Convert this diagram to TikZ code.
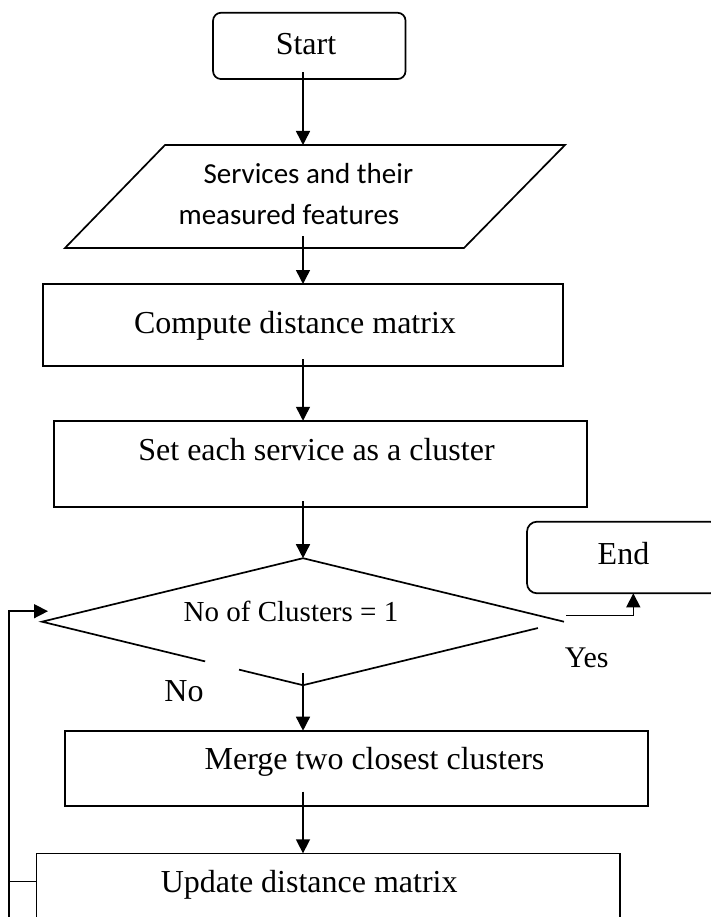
\documentclass[tikz,border=0pt]{standalone}
\usepackage{fontspec}
\setmainfont{Liberation Serif}
\newfontfamily\calib{Carlito}
\usetikzlibrary{arrows.meta,calc,shapes.geometric}
\begin{document}
\begin{tikzpicture}[x=1pt,y=-1pt,line width=1.7pt,
  box/.style={draw,rectangle,inner sep=0pt,outer sep=0pt,font=\fontsize{32}{38}\selectfont,text height=22pt},
  term/.style={box,rounded corners=8pt},
  arr/.style={-{Triangle[width=14pt,length=14pt]},line width=1.5pt},
  lbl/.style={inner sep=0pt,outer sep=0pt,font=\fontsize{32}{38}\selectfont,anchor=base}]
\path[use as bounding box] (0,0) rectangle (711,917);
\clip (0,0) rectangle (711,917);

% nodes
\node[term,minimum width=192.5pt,minimum height=66.3pt,text depth=3.8pt] (start) at (309.3,45.9) {Start\hspace*{6.6pt}};
\node[inner sep=0pt,outer sep=0pt,minimum width=500pt,minimum height=103pt] (par) at (315,196.5) {};
\draw ($(par.north west)+(100,0)$) -- (par.north east) -- ($(par.south east)+(-101,0)$) -- (par.south west) -- cycle;
\node[anchor=base west,inner sep=0pt,outer sep=0pt,font=\calib\fontsize{29}{41.7}\selectfont] (ptxt) at (178.6,183.3)
  {\begin{tabular}[t]{@{}l@{}}\hspace*{25pt}Services and their\\ measured features\end{tabular}};
\node[box,minimum width=520pt,minimum height=82pt,text depth=5.4pt] (cmp) at (303,325) {Compute distance matrix\hspace*{16pt}};
\node[box,minimum width=533pt,minimum height=86.3pt,text depth=28pt] (set) at (320.5,463.9) {Set each service as a cluster\hspace*{8pt}};
\node[shape=diamond,inner sep=0pt,outer sep=0pt,minimum width=522pt,minimum height=127pt] (dec) at (303,621.7) {};
\node[lbl,font=\fontsize{29}{35}\selectfont] (dtxt) at (291,621.7) {No of Clusters = 1};
\node[term,rounded corners=10pt,minimum width=193pt,minimum height=71.6pt,text depth=9pt] (endb) at (623.5,557.5) {End};
\node[box,minimum width=583pt,minimum height=75pt,text depth=18.8pt] (merge) at (356.5,768.2) {\hspace*{36pt}Merge two closest clusters};
\node[box,minimum width=583.7pt,minimum height=76.7pt,text depth=19.6pt] (upd) at (328.2,891.7) {Update distance matrix\hspace*{38pt}};
\node[lbl] (no) at (184,701.7) {No};
\node[lbl,font=\fontsize{30}{36}\selectfont] (yes) at (586.7,667.3) {Yes};

% decision outline (with the gaps of the original)
\draw ($(dec.south)!0.375!(dec.west)$) -- (dec.west) -- (dec.north) -- (dec.east);
\draw ($(dec.east)!0.1!(dec.south)$) -- (dec.south) -- ($(dec.south)!0.245!(dec.west)$);

% connectors
\draw[arr] ($(start.south -| cmp.north)+(0,-7)$) -- (par.north -| cmp.north);
\draw[arr] ($(par.south -| cmp.north)+(0,-12)$) -- (cmp.north);
\draw[arr] ($(cmp.south)+(0,-7)$) -- (set.north -| cmp.south);
\draw[arr] ($(set.south -| dec.north)+(0,-6)$) -- (dec.north);
\draw[arr] ($(dec.south)+(0,-12)$) -- (merge.north -| dec.south);
\draw[arr] ($(merge.south -| dec.south)+(0,-14)$) -- (upd.north -| dec.south);
\draw[arr] ($(dec.east)+(2,-6)$) -| ($(endb.south)+(9.8,0)$);
\coordinate (loopbot) at (9,935);
\coordinate (br) at ($(upd.west)+(0,-10)$);
\draw[line width=1.5pt] (br) -- (br -| loopbot);
\draw[arr] (loopbot) |- ($(dec.west)+(6,-10.5)$);
\end{tikzpicture}
\end{document}
